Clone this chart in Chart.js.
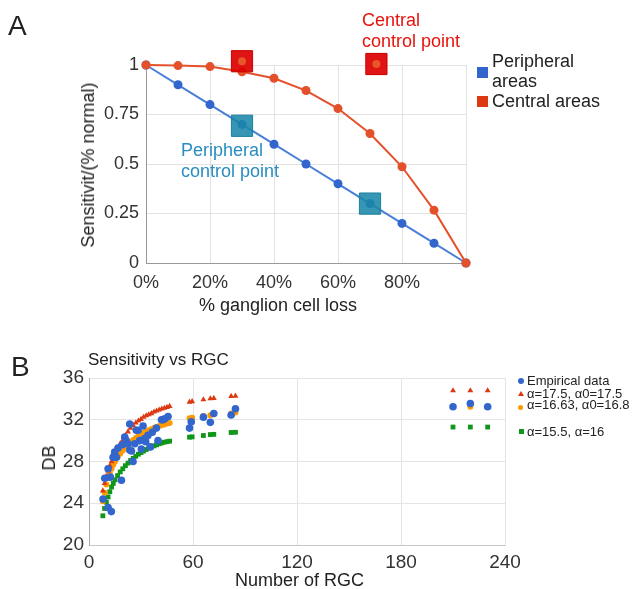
<!DOCTYPE html>
<html>
<head>
<meta charset="utf-8">
<script src="https://cdn.jsdelivr.net/npm/chart.js@4"></script>
<style>
  body { margin: 0; background: #fff; }
  #wrap { position: relative; width: 633px; height: 589px; font-family: "Liberation Sans", Arial, sans-serif; color: #222; }
  #wrap canvas { position: absolute; left: 0; }
  .lbl { position: absolute; white-space: nowrap; transform: translateY(-50%); line-height: 1; }
  .rot { position: absolute; white-space: nowrap; transform: translate(-50%, -50%) rotate(-90deg); line-height: 1; }
  .mk { position: absolute; }
</style>
</head>
<body>
<div id="wrap">
  <canvas id="chartA" width="633" height="310" style="top:0"></canvas>
  <canvas id="chartB" width="633" height="259" style="top:330px"></canvas>

  <!-- panel A text -->
  <div class="lbl" style="left:8px; top:26px; font-size:28px;">A</div>
  <div class="rot" style="left:88px; top:165px; font-size:18px;">Sensitivit/(% normal)</div>
  <div class="lbl" style="left:199px; top:305px; font-size:18px;">% ganglion cell loss</div>
  <div class="lbl" style="left:362px; top:20px; font-size:18px; color:#e8120c;">Central</div>
  <div class="lbl" style="left:362px; top:41px; font-size:18px; color:#e8120c;">control point</div>
  <div class="lbl" style="left:181px; top:150px; font-size:18px; color:#2a8dc0;">Peripheral</div>
  <div class="lbl" style="left:181px; top:171px; font-size:18px; color:#2a8dc0;">control point</div>
  <div class="mk" style="left:477px; top:67px; width:11px; height:11px; background:#3366cc;"></div>
  <div class="lbl" style="left:492px; top:61px; font-size:18px;">Peripheral</div>
  <div class="lbl" style="left:492px; top:81px; font-size:18px;">areas</div>
  <div class="mk" style="left:477px; top:96px; width:11px; height:11px; background:#dc3912;"></div>
  <div class="lbl" style="left:492px; top:101px; font-size:18px;">Central areas</div>

  <!-- panel B text -->
  <div class="lbl" style="left:11px; top:367px; font-size:28px;">B</div>
  <div class="lbl" style="left:88px; top:359px; font-size:17px;">Sensitivity vs RGC</div>
  <div class="rot" style="left:49px; top:458px; font-size:18px;">DB</div>
  <div class="lbl" style="left:235px; top:580px; font-size:18px;">Number of RGC</div>

  <div class="mk" style="left:518px; top:378px; width:6px; height:6px; border-radius:50%; background:#3366cc;"></div>
  <div class="lbl" style="left:527px; top:380px; font-size:13px;">Empirical data</div>
  <div class="mk" style="left:518px; top:391px; width:0; height:0; border-left:3px solid transparent; border-right:3px solid transparent; border-bottom:5px solid #dc3912;"></div>
  <div class="lbl" style="left:527px; top:393px; font-size:13px;">α=17.5, α0=17.5</div>
  <div class="mk" style="left:518px; top:405px; width:5px; height:5px; border-radius:50%; background:#ff9900;"></div>
  <div class="lbl" style="left:527px; top:404px; font-size:13px;">α=16.63, α0=16.8</div>
  <div class="mk" style="left:519px; top:429px; width:5px; height:5px; background:#109618;"></div>
  <div class="lbl" style="left:527px; top:431px; font-size:13px;">α=15.5, α=16</div>
</div>

<script>
// ---- panel A: sensitivity vs % ganglion cell loss
const lossPct = [0, 10, 20, 30, 40, 50, 60, 70, 80, 90, 100];
const peripheralSens = [1, 0.9, 0.8, 0.7, 0.6, 0.5, 0.4, 0.3, 0.2, 0.1, 0];
const centralSens = [1, 0.997, 0.992, 0.966, 0.933, 0.871, 0.78, 0.654, 0.486, 0.267, 0];

const centralCtrlX = [30, 72];
const centralCtrlY = [1.019, 1.005];
const periphCtrlX = [30, 70];
const periphCtrlY = [0.693, 0.3];

// ---- panel B: sensitivity (dB) vs number of RGC
const empiricalRgc = [8.1, 9.1, 11, 11, 12.9, 12.3, 13.9, 14.8, 15.8, 16.7, 18.7, 19.3, 20.6, 21.5,
  22.5, 23.5, 23.5, 24.5, 25.4, 26.4, 27.3, 28.3, 29.2, 30.2, 31.2, 32.1, 32.7, 34, 35.4, 36.5,
  38.9, 39.8, 41.8, 42.7, 43.7, 45.6, 58, 59, 66, 70, 72, 82, 84.5, 210, 220, 230];
const empiricalDb = [24.4, 26.4, 27.3, 23.6, 23.2, 26.5, 28.4, 28.9, 28.4, 29.3, 26.2, 29.6, 30.35, 30.0,
  29.7, 31.6, 29.1, 29.0, 28.0, 29.7, 31.0, 31.0, 30.0, 29.2, 31.4, 30.2, 29.9, 30.5, 29.4, 30.8,
  31.2, 30.0, 32.0, 32.0, 32.1, 32.3, 31.2, 31.8, 32.25, 31.75, 32.6, 32.45, 33.05, 33.25, 33.55, 33.25];

const modelRgc = [8, 9, 10, 11, 12, 13, 14, 15, 16.5, 18, 19.5, 21, 22.5, 24, 25.5, 27, 28.5, 30,
  31.5, 33, 34.5, 36, 37.5, 39, 40.5, 42, 43.5, 45, 46.5, 58, 59.5, 66, 70, 72, 82, 84.5, 210, 220, 230];
const modelA175 = [25.2, 25.9, 26.6, 27.1, 27.6, 28.0, 28.4, 28.8, 29.25, 29.7, 30.05, 30.5, 30.85, 31.2,
  31.45, 31.7, 31.9, 32.05, 32.25, 32.4, 32.5, 32.6, 32.75, 32.85, 32.95, 33.05, 33.12, 33.2, 33.3,
  33.7, 33.75, 33.93, 34.02, 34.06, 34.25, 34.28, 34.8, 34.8, 34.8];
const modelA1663 = [24.2, 25.0, 25.8, 26.4, 26.9, 27.3, 27.7, 28.0, 28.4, 28.75, 29.05, 29.35, 29.6, 29.85,
  30.05, 30.25, 30.45, 30.6, 30.75, 30.85, 31.0, 31.1, 31.2, 31.3, 31.4, 31.5, 31.55, 31.65, 31.7,
  32.15, 32.2, 32.37, 32.43, 32.53, 32.6, 32.7, 33.25, 33.25, 33.25];
const modelA155 = [22.8, 23.5, 24.1, 24.6, 25.1, 25.55, 25.9, 26.25, 26.65, 27.0, 27.3, 27.6, 27.85, 28.1,
  28.3, 28.5, 28.7, 28.85, 29.0, 29.15, 29.3, 29.4, 29.5, 29.6, 29.7, 29.78, 29.85, 29.9, 29.95,
  30.33, 30.36, 30.49, 30.58, 30.6, 30.78, 30.8, 31.3, 31.3, 31.3];

const FONT = "'Liberation Sans', Arial, sans-serif";
const pts = (xs, ys) => xs.map((x, i) => ({ x, y: ys[i] }));

function buildChartA() {
  new Chart(document.getElementById("chartA"), {
    type: "scatter",
    data: {
      datasets: [
        { data: pts(centralCtrlX, centralCtrlY), pointStyle: "circle", pointRadius: 4,
          backgroundColor: "#e8572a", borderWidth: 0, clip: false },
        { data: pts(centralCtrlX, centralCtrlY), pointStyle: "rect", pointRadius: 15,
          backgroundColor: "rgba(221,0,0,0.92)", borderColor: "#c80000", borderWidth: 1, clip: false },
        { data: pts(periphCtrlX, periphCtrlY), pointStyle: "rect", pointRadius: 15,
          backgroundColor: "rgba(26,135,170,0.88)", borderColor: "#1a7fa0", borderWidth: 1, clip: false },
        { data: pts(lossPct, centralSens), showLine: true, borderColor: "#e4502a", borderWidth: 2,
          backgroundColor: "#e4502a", pointRadius: 4.5, pointBorderWidth: 0, clip: false },
        { data: pts(lossPct, peripheralSens), showLine: true, borderColor: "#4a7fd9", borderWidth: 2,
          backgroundColor: "#3366cc", pointRadius: 4.5, pointBorderWidth: 0, clip: false }
      ]
    },
    options: {
      responsive: false,
      animation: false,
      layout: { padding: { top: 65, right: 167, bottom: 0, left: 0 } },
      plugins: { legend: { display: false }, tooltip: { enabled: false } },
      scales: {
        x: {
          type: "linear", min: 0, max: 100,
          ticks: { stepSize: 20, padding: 9, color: "#333", font: { family: FONT, size: 18 },
                   callback: v => (v === 100 ? "" : v + "%") },
          grid: { color: "#e2e2e2", drawTicks: false },
          border: { color: "#999" },
          afterFit: s => { s.height = 47; }
        },
        y: {
          min: 0, max: 1,
          ticks: { stepSize: 0.25, padding: 7, color: "#333", font: { family: FONT, size: 18 },
                   callback: v => String(v) },
          grid: { color: "#e2e2e2", drawTicks: false },
          border: { color: "#999" },
          afterFit: s => { s.width = 146; }
        }
      }
    }
  });
}

function buildChartB() {
  new Chart(document.getElementById("chartB"), {
    type: "scatter",
    data: {
      datasets: [
        { label: "Empirical data", data: pts(empiricalRgc, empiricalDb), pointStyle: "circle",
          pointRadius: 3.8, backgroundColor: "#3366cc", borderWidth: 0, clip: false },
        { label: "α=17.5, α0=17.5", data: pts(modelRgc, modelA175), pointStyle: "triangle",
          pointRadius: 3.4, backgroundColor: "#dc3912", borderWidth: 0, clip: false },
        { label: "α=16.63, α0=16.8", data: pts(modelRgc, modelA1663), pointStyle: "circle",
          pointRadius: 3, backgroundColor: "#ff9900", borderWidth: 0, clip: false },
        { label: "α=15.5, α=16", data: pts(modelRgc, modelA155), pointStyle: "rect",
          pointRadius: 3.4, backgroundColor: "#109618", borderWidth: 0, clip: false }
      ]
    },
    options: {
      responsive: false,
      animation: false,
      layout: { padding: { top: 48, right: 128, bottom: 0, left: 0 } },
      plugins: { legend: { display: false }, tooltip: { enabled: false } },
      scales: {
        x: {
          type: "linear", min: 0, max: 240,
          ticks: { stepSize: 60, padding: 6, color: "#333", font: { family: FONT, size: 19 } },
          grid: { color: "#e4e4e4", drawTicks: false },
          border: { color: "#c8c8c8" },
          afterFit: s => { s.height = 44; }
        },
        y: {
          min: 20, max: 36,
          ticks: { stepSize: 4, padding: 5, color: "#333", font: { family: FONT, size: 19 } },
          grid: { color: "#e4e4e4", drawTicks: false },
          border: { color: "#aaa" },
          afterFit: s => { s.width = 89; }
        }
      }
    }
  });
}

buildChartA();
buildChartB();
</script>
</body>
</html>
